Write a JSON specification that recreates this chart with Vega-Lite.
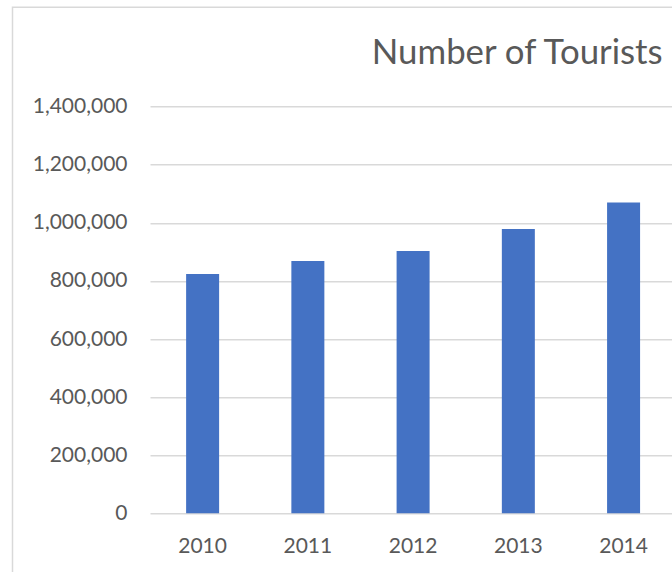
{
  "$schema": "https://vega.github.io/schema/vega-lite/v6.json",
  "autosize": {"type": "none"},
  "padding": {"left": 12.5, "top": 7.3, "right": -20, "bottom": -20},
  "width": 679.5,
  "height": 584.7,
  "background": "white",
  "config": {
    "view": {"stroke": "#d9d9d9", "strokeWidth": 1.5},
    "font": "Lato"
  },
  "title": {
    "text": "Number of Tourists",
    "font": "Lato",
    "fontSize": 34.8,
    "fontWeight": "normal",
    "color": "#595959",
    "anchor": "middle",
    "frame": "group",
    "baseline": "alphabetic",
    "offset": 0,
    "dx": 165,
    "dy": 91
  },
  "data": {
    "values": [
      {"year": "2010", "tourists": 824000},
      {"year": "2011", "tourists": 868500},
      {"year": "2012", "tourists": 903000},
      {"year": "2013", "tourists": 978800},
      {"year": "2014", "tourists": 1070500}
    ]
  },
  "mark": {"type": "bar", "size": 33, "color": "#4472C4"},
  "encoding": {
    "x": {
      "field": "year",
      "type": "nominal",
      "sort": null,
      "scale": {"range": [137.5, 663.7], "paddingInner": 0, "paddingOuter": 0},
      "axis": {
        "title": null,
        "orient": "bottom",
        "offset": -78.7,
        "labelAngle": 0,
        "labelFont": "Lato",
        "labelFontSize": 21,
        "labelColor": "#595959",
        "labelPadding": 22,
        "ticks": false,
        "domain": false,
        "grid": false
      }
    },
    "y": {
      "field": "tourists",
      "type": "quantitative",
      "scale": {"domain": [0, 1400000], "range": [506, 99.4], "nice": false, "zero": true},
      "axis": {
        "title": null,
        "orient": "left",
        "offset": -137.5,
        "values": [0, 200000, 400000, 600000, 800000, 1000000, 1200000, 1400000],
        "format": ",d",
        "labelFont": "Lato",
        "labelFontSize": 21,
        "labelColor": "#595959",
        "labelPadding": 23,
        "ticks": false,
        "domain": false,
        "grid": true,
        "gridColor": "#d9d9d9",
        "gridWidth": 1.5,
        "gridOpacity": 1
      }
    }
  }
}
